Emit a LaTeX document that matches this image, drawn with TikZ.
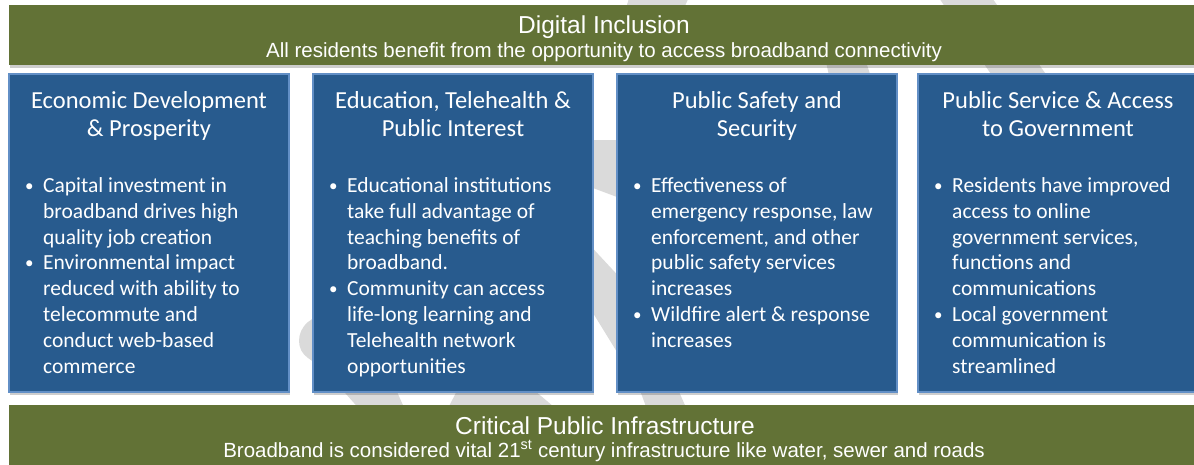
\documentclass[tikz,border=0pt]{standalone}
\usepackage{fontspec}
\setmainfont{Carlito}
\newfontfamily\arialf{Liberation Sans}
\usetikzlibrary{shadows}
\definecolor{bargreen}{RGB}{98,114,54}
\definecolor{boxblue}{RGB}{40,91,142}
\definecolor{boxedge}{RGB}{98,143,198}
\definecolor{ghost}{RGB}{218,218,218}
\tikzset{
  softshadow/.style={drop shadow={shadow xshift=0.5pt, shadow yshift=-3pt, opacity=0.28, fill=black!70}},
  greenbar/.style={rectangle, fill=bargreen, draw=none, inner sep=0, softshadow},
  bluebox/.style={rectangle, fill=boxblue, draw=boxedge, line width=1.5pt, inner sep=0,
    minimum width=280pt, minimum height=318pt, softshadow},
  bartitle/.style={text=white, inner sep=0, anchor=base, font=\arialf\fontsize{24.5}{28}\selectfont},
  barsub/.style={text=white, inner sep=0, anchor=base, font=\arialf\fontsize{20.5}{24}\selectfont},
  boxtitle/.style={text=white, inner sep=0, anchor=north, align=center,
    font=\fontsize{24.5}{28.5}\selectfont},
  bullets/.style={text=white, inner sep=0, anchor=north west, align=left,
    font=\fontsize{21.5}{25.9}\selectfont},
}
\newcommand{\bl}{\llap{\raisebox{1.2pt}{\fontsize{17}{17}\selectfont\textbullet}\hspace{9.5pt}}}
\newcommand{\ftop}{\rule{0pt}{20pt}}
\newcommand{\ttop}{\rule{0pt}{22pt}}
\begin{document}
\begin{tikzpicture}[x=1pt,y=-1pt]
\useasboundingbox (0,0) rectangle (1194,464);
% faint background graphic
\fill[ghost] (937,-5) -- (990,-5) -- (1050,80) -- (995,80) -- cycle;
\fill[ghost] (826,62) -- (866,62) -- (872,80) -- (830,80) -- cycle;
\fill[ghost] (630,-5) -- (690,-5) -- (684,8) -- (626,8) -- cycle;
\fill[ghost] (585,140) -- (625,140) -- (625,200) -- (585,185) -- cycle;
\fill[ghost] (585,240) -- (625,283) -- (625,365) -- (585,300) -- cycle;
\fill[ghost] (318,315) -- (308,322) .. controls (296,332) and (296,350) .. (308,358) -- (318,365) -- cycle;
\fill[ghost] (338,385) -- (394,385) -- (406,412) -- (362,412) -- cycle;
\fill[ghost] (460,385) -- (528,385) -- (560,412) -- (446,412) -- cycle;
\fill[ghost] (638,385) -- (676,385) -- (688,412) -- (648,412) -- cycle;
% green bars
\node[greenbar, minimum width=1195pt, minimum height=60pt] (topbar) at (606.5,35) {};
\node[greenbar, minimum width=1195pt, minimum height=64pt] (botbar) at (606.5,437) {};
% blue boxes
\node[bluebox] (b1) at (149,233) {};
\node[bluebox] (b2) at (453,233) {};
\node[bluebox] (b3) at (757,233) {};
\node[bluebox] (b4) at (1058,233) {};
% bar texts
\node[bartitle] (toptitle) at (604,33) {Digital Inclusion};
\node[barsub] (topsub) at (604,57) {All residents benefit from the opportunity to access broadband connectivity};
\node[bartitle] (bottitle) at (605,434) {Critical Public Infrastructure};
\node[barsub] (botsub) at (604,457) {Broadband is considered vital 21\textsuperscript{st} century infrastructure like water, sewer and roads};
% box titles
\node[boxtitle] (t1) at (149,86) {\ttop Economic Development\\\& Prosperity};
\node[boxtitle] (t2) at (453,86) {\ttop Education, Telehealth \&\\Public Interest};
\node[boxtitle] (t3) at (757,86) {\ttop Public Safety and\\Security};
\node[boxtitle] (t4) at (1058,86) {\ttop Public Service \& Access\\to Government};
% bullets
\node[bullets] (l1) at (43,172) {\ftop\bl Capital investment in\\broadband drives high\\quality job creation\\
\bl Environmental impact\\reduced with ability to\\telecommute and\\conduct web-based\\commerce};
\node[bullets] (l2) at (347,172) {\ftop\bl Educational institutions\\take full advantage of\\teaching benefits of\\broadband.\\
\bl Community can access\\life-long learning and\\Telehealth network\\opportunities};
\node[bullets] (l3) at (651,172) {\ftop\bl Effectiveness of\\emergency response, law\\enforcement, and other\\public safety services\\increases\\
\bl Wildfire alert \& response\\increases};
\node[bullets] (l4) at (952,172) {\ftop\bl Residents have improved\\access to online\\government services,\\functions and\\communications\\
\bl Local government\\communication is\\streamlined};
\end{tikzpicture}
\end{document}
